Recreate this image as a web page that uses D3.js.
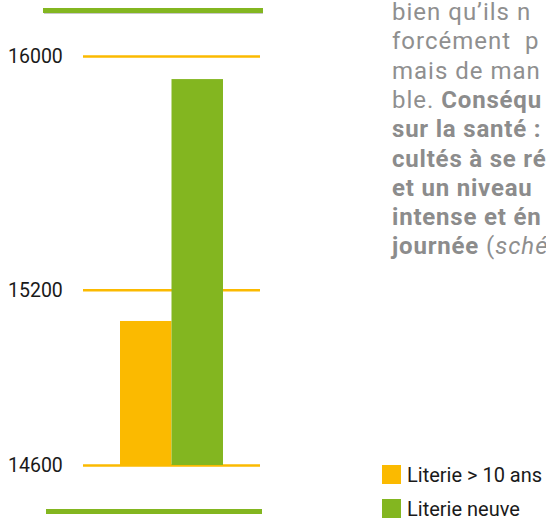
<!DOCTYPE html>
<html><head><meta charset="utf-8">
<script src="https://cdn.jsdelivr.net/npm/d3@7"></script>
<style>
html,body{margin:0;padding:0;background:#fff;overflow:hidden;}
svg{display:block;}
</style></head>
<body>
<svg id="c" width="546" height="519"></svg>
<script>
// ---- data ----
const categories = ["Literie > 10 ans", "Literie neuve"];
const values = [15093, 15921];
const tickValues = [14600, 15200, 16000];
const tickLabels = ["14600", "15200", "16000"];
const colors = ["#fbba00", "#83b620"];
const paragraphLines = [
  [["r", "bien qu’ils n"]],
  [["r", "forcément  p"]],
  [["r", "mais de man"]],
  [["r", "ble. "], ["b", "Conséqu"]],
  [["b", "sur la santé :"]],
  [["b", "cultés à se ré"]],
  [["b", "et un niveau"]],
  [["b", "intense et én"]],
  [["b", "journée"], ["r", " ("], ["i", "sché"]]
];

const svg = d3.select("#c");
const y = d3.scaleLinear().domain([14600, 16000]).range([465, 56]);
const x = d3.scaleBand().domain(categories).range([120, 223]).padding(0);

// frame lines (green, top and bottom)
svg.append("rect").attr("x", 44).attr("y", 10).attr("width", 219).attr("height", 4).attr("fill", "#c8c8c8");
svg.append("rect").attr("x", 43).attr("y", 8).attr("width", 220).attr("height", 5).attr("fill", colors[1]);
svg.append("rect").attr("x", 46).attr("y", 509).attr("width", 216).attr("height", 5).attr("fill", colors[1]);

// gridlines via axis
const axis = d3.axisLeft(y).tickValues(tickValues).tickFormat((d, i) => tickLabels[i]).tickSize(-177);
const g = svg.append("g").attr("transform", "translate(260,0)").call(axis);
g.select(".domain").remove();
g.selectAll(".tick line").attr("stroke", "#fbba00").attr("stroke-width", 2.5).attr("x1", 0).attr("x2", -177);
g.selectAll(".tick text").remove();
svg.append("g").selectAll("text").data(tickValues).join("text")
  .attr("x", 8).attr("y", d => y(d)).attr("dy", "0.35em")
  .attr("font-family", "Roboto, sans-serif").attr("font-size", 19.5).attr("fill", "#1a1a1a")
  .text((d, i) => tickLabels[i]);

// bars
svg.append("g").selectAll("rect").data(values).join("rect")
  .attr("x", (d, i) => x(categories[i]))
  .attr("y", d => y(d))
  .attr("width", x.bandwidth())
  .attr("height", d => y(14600) - y(d))
  .attr("fill", (d, i) => colors[i]);

// paragraph text
const para = svg.append("g").attr("font-family", "Roboto, sans-serif").attr("fill", "#8f8f8f");
paragraphLines.forEach((segs, i) => {
  const t = para.append("text").attr("x", 392).attr("y", 20 + i * 29.3).style("white-space", "pre");
  segs.forEach(([k, s]) => {
    const sp = t.append("tspan").text(s);
    if (k === "b") sp.attr("font-weight", 700).attr("font-size", 24).attr("letter-spacing", 0.8).attr("fill", "#8c8c8c");
    else sp.attr("font-weight", 400).attr("font-size", 24).attr("letter-spacing", 1);
    if (k === "i") sp.attr("font-style", "italic");
  });
});

// legend
const leg = svg.append("g");
categories.forEach((c, i) => {
  leg.append("rect").attr("x", 382).attr("y", 465 + i * 34).attr("width", 19).attr("height", 19).attr("fill", colors[i]);
  leg.append("text").attr("x", 407).attr("y", 482 + i * 33.5)
    .attr("font-family", "Roboto, sans-serif").attr("font-size", 20).attr("fill", "#1a1a1a").text(c);
});
</script>
</body></html>
